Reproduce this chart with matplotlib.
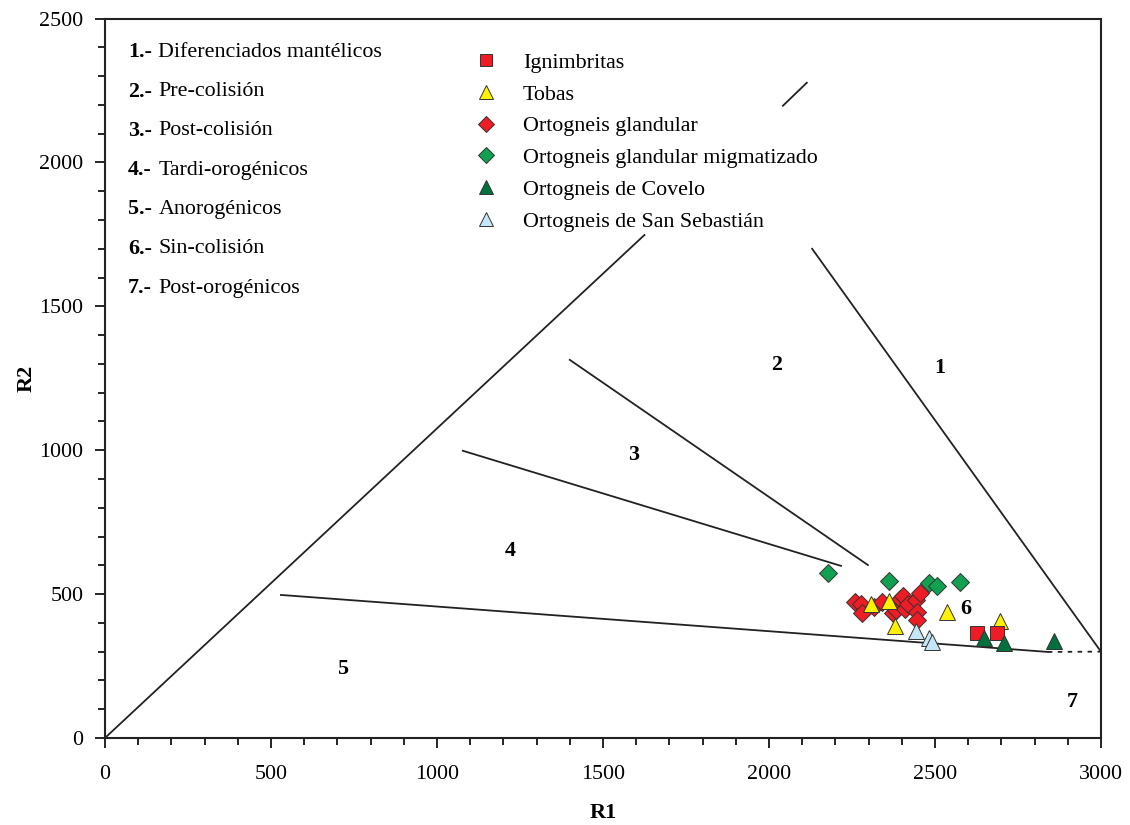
import matplotlib.pyplot as plt
from matplotlib.lines import Line2D
from matplotlib.ticker import MultipleLocator

plt.rcParams['font.family'] = ['Liberation Serif', 'DejaVu Serif']

# field boundaries (R1, R2)
diag_low = ([0, 1625], [0, 1748])
diag_high = ([2042, 2114], [2197, 2277])
line_1 = ([2130, 3000], [1700, 300])
line_23 = ([1400, 2298], [1314, 601])
line_34 = ([1078, 2217], [998, 598])
line_base = ([530, 2840], [497, 299])
line_dotted = ([2840, 3000], [299, 300])

field_nums = ['1', '2', '3', '4', '5', '6', '7']
field_x = [2515, 2024, 1593, 1220, 717, 2593, 2913]
field_y = [1287, 1297, 984, 650, 240, 449, 125]

region_names = ['Diferenciados mantélicos', 'Pre-colisión', 'Post-colisión',
                'Tardi-orogénicos', 'Anorogénicos', 'Sin-colisión',
                'Post-orogénicos']

# samples
ign_r1 = [2626, 2686]
ign_r2 = [364, 364]

tob_r1 = [2306, 2362, 2380, 2535, 2696]
tob_r2 = [466, 477, 388, 436, 405]

ogl_r1 = [2259, 2276, 2279, 2316, 2339, 2374, 2383, 2395, 2405, 2410,
          2419, 2443, 2455, 2445, 2447]
ogl_r2 = [471, 466, 434, 456, 471, 434, 446, 483, 494, 448,
          467, 478, 504, 436, 411]

ogm_r1 = [2178, 2362, 2483, 2505, 2574]
ogm_r2 = [575, 547, 540, 528, 542]

cov_r1 = [2648, 2708, 2858]
cov_r2 = [347, 331, 338]

ssb_r1 = [2443, 2483, 2490]
ssb_r2 = [370, 349, 335]

FS = 15.8
EDGE = '#333333'

fig = plt.figure(figsize=(11.3, 8.25), dpi=100)
ax = fig.add_axes([0.0929, 0.1055, 0.8814, 0.872])

for xs, ys in [diag_low, diag_high, line_1, line_23, line_34, line_base]:
    ax.plot(xs, ys, color='#222222', lw=1.3, zorder=1)
ax.plot(*line_dotted, color='#222222', lw=1.3, ls=(0, (2.5, 3)), zorder=1)

ax.plot(ogm_r1, ogm_r2, 'D', color='#10a050', mec=EDGE, mew=0.7, ms=9.5, ls='none', zorder=3)
ax.plot(ogl_r1, ogl_r2, 'D', color='#ee1c25', mec=EDGE, mew=0.7, ms=9.5, ls='none', zorder=3)
ax.plot(tob_r1, tob_r2, '^', color='#fff200', mec=EDGE, mew=0.7, ms=12, ls='none', zorder=4)
ax.plot(ign_r1, ign_r2, 's', color='#ee1c25', mec=EDGE, mew=0.7, ms=10.5, ls='none', zorder=4)
ax.plot(ssb_r1, ssb_r2, '^', color='#c5e6f7', mec=EDGE, mew=0.7, ms=12, ls='none', zorder=5)
ax.plot(cov_r1, cov_r2, '^', color='#00703c', mec=EDGE, mew=0.7, ms=12, ls='none', zorder=5)

for n, x, y in zip(field_nums, field_x, field_y):
    ax.text(x, y, n, fontsize=FS, fontweight='bold', ha='center', va='center')

for i, name in enumerate(region_names):
    yy = 0.953 - i * 0.0546
    ax.annotate(f'{i + 1}.-', xy=(0.023, yy), xycoords='axes fraction',
                fontsize=FS, fontweight='bold', va='center', ha='left')
    ax.annotate(name, xy=(0.023, yy), xycoords='axes fraction',
                xytext=(22, 0), textcoords='offset points',
                fontsize=FS, va='center', ha='left')

handles = [
    Line2D([], [], marker='s', color='#ee1c25', mec=EDGE, mew=0.7, ms=9, ls='none'),
    Line2D([], [], marker='^', color='#fff200', mec=EDGE, mew=0.7, ms=10, ls='none'),
    Line2D([], [], marker='D', color='#ee1c25', mec=EDGE, mew=0.7, ms=8, ls='none'),
    Line2D([], [], marker='D', color='#10a050', mec=EDGE, mew=0.7, ms=8, ls='none'),
    Line2D([], [], marker='^', color='#00703c', mec=EDGE, mew=0.7, ms=10, ls='none'),
    Line2D([], [], marker='^', color='#c5e6f7', mec=EDGE, mew=0.7, ms=10, ls='none'),
]
labels = ['Ignimbritas', 'Tobas', 'Ortogneis glandular',
          'Ortogneis glandular migmatizado', 'Ortogneis de Covelo',
          'Ortogneis de San Sebastián']
ax.legend(handles, labels, loc='upper left', bbox_to_anchor=(0.3604, 0.953),
          frameon=False, fontsize=FS, labelspacing=0.52, handletextpad=0.69,
          borderaxespad=0, borderpad=0)

ax.set_xlim(0, 3000)
ax.set_ylim(0, 2500)
ax.xaxis.set_major_locator(MultipleLocator(500))
ax.xaxis.set_minor_locator(MultipleLocator(100))
ax.yaxis.set_major_locator(MultipleLocator(500))
ax.yaxis.set_minor_locator(MultipleLocator(100))
ax.tick_params(which='both', direction='out', width=1.2, labelsize=FS, top=False, right=False)
ax.tick_params(which='major', length=7)
ax.tick_params(which='minor', length=5)
ax.tick_params(axis='x', which='major', pad=12.5)
ax.tick_params(axis='y', which='major', pad=8.5)
for s in ax.spines.values():
    s.set_linewidth(1.5)
    s.set_color('#222222')

ax.set_xlabel('R1', fontsize=16, fontweight='bold')
ax.set_ylabel('R2', fontsize=16, fontweight='bold')
ax.xaxis.set_label_coords(0.5, -0.091)
ax.yaxis.set_label_coords(-0.069, 0.5)

fig.savefig('out.png', dpi=100)
